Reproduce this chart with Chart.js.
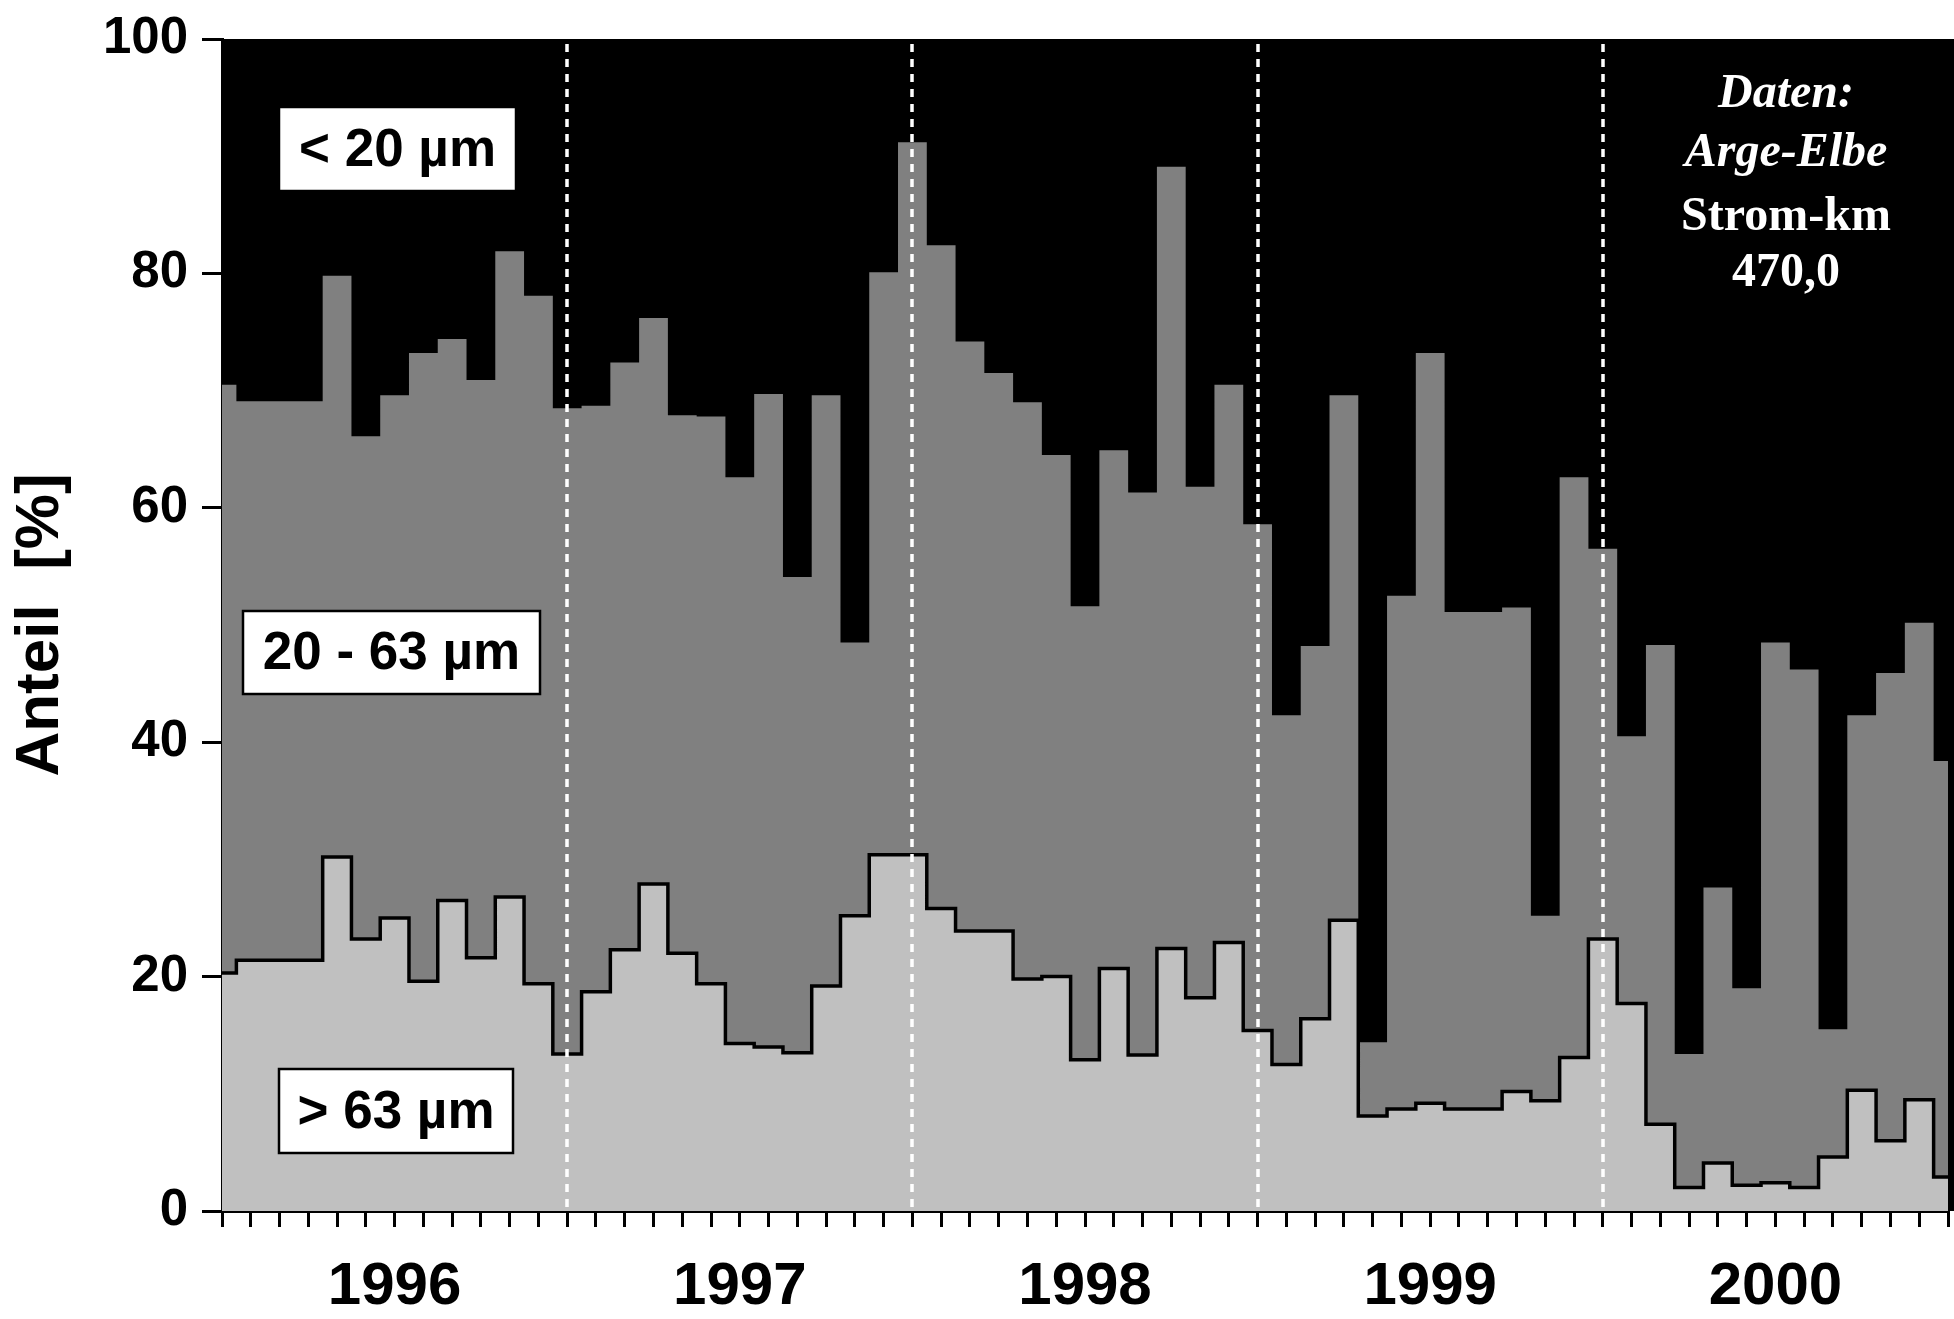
<!DOCTYPE html>
<html>
<head>
<meta charset="utf-8">
<script src="https://cdn.jsdelivr.net/npm/chart.js@4.4.1/dist/chart.umd.min.js"></script>
<style>
  html, body { margin: 0; padding: 0; background: #ffffff; }
  #wrap { width: 1954px; height: 1319px; }
</style>
</head>
<body>
<div id="wrap"><canvas id="c" width="1954" height="1319"></canvas></div>
<script>
// ---- data ----
const yearLabels = ['1996', '1997', '1998', '1999', '2000'];
const monthNames = ['Jan', 'Feb', 'Mär', 'Apr', 'Mai', 'Jun', 'Jul', 'Aug', 'Sep', 'Okt', 'Nov', 'Dez'];

// share of fraction > 63 µm [%], monthly (Jan 1996 ... Jan 2001)
const coarse = [
  20.3, 21.4, 21.4, 21.4, 30.2, 23.2, 25.0, 19.6, 26.5, 21.6, 26.8, 19.4,
  13.4, 18.7, 22.3, 27.9, 22.0, 19.4, 14.3, 14.0, 13.5, 19.2, 25.2, 30.4,
  30.4, 25.8, 23.9, 23.9, 19.8, 20.0, 12.9, 20.7, 13.3, 22.4, 18.2, 22.9,
  15.4, 12.5, 16.4, 24.8,  8.1,  8.7,  9.2,  8.7,  8.7, 10.2,  9.4, 13.1,
  23.2, 17.7,  7.4,  2.0,  4.1,  2.2,  2.4,  2.0,  4.6, 10.3,  6.0,  9.5,
   2.9
];

// cumulative share > 20 µm (20 - 63 µm plus > 63 µm) [%]
const coarsePlusMedium = [
  70.5, 69.1, 69.1, 69.1, 79.8, 66.1, 69.6, 73.2, 74.4, 70.9, 81.9, 78.1,
  68.5, 68.7, 72.4, 76.2, 67.9, 67.8, 62.6, 69.7, 54.1, 69.6, 48.5, 80.1,
  91.2, 82.4, 74.2, 71.5, 69.0, 64.5, 51.6, 64.9, 61.3, 89.1, 61.8, 70.5,
  58.6, 42.3, 48.2, 69.6, 14.4, 52.5, 73.2, 51.1, 51.1, 51.5, 25.2, 62.6,
  56.5, 40.5, 48.3, 13.4, 27.6, 19.0, 48.5, 46.2, 15.5, 42.3, 45.9, 50.2,
  38.4
];

const fractionLabels = ['< 20 µm', '20 - 63 µm', '> 63 µm'];
const noteLines = ['Daten:', 'Arge-Elbe', 'Strom-km', '470,0'];
const yAxisTitle = 'Anteil  [%]';

// categories built from the year / month names
const categories = [];
yearLabels.forEach(y => monthNames.forEach(m => categories.push(m + ' ' + y)));
categories.push('Jan 2001');

// ---- drawing helpers ----
const SANS = '"Liberation Sans", Arial, sans-serif';
const SERIF = '"Liberation Serif", "Times New Roman", serif';

const overlay = {
  id: 'overlay',
  beforeDatasetsDraw(chart) {
    const { ctx, chartArea: a } = chart;
    ctx.save();
    ctx.fillStyle = '#000000';
    ctx.fillRect(a.left, a.top, chart.width - a.left, a.bottom - a.top);
    ctx.restore();
  },
  afterDatasetsDraw(chart) {
    const { ctx, chartArea: a } = chart;
    const xs = chart.scales.x;
    ctx.save();
    // dashed year separators
    ctx.strokeStyle = '#ffffff';
    ctx.lineWidth = 3.5;
    ctx.setLineDash([8, 7]);
    for (let i = 1; i < yearLabels.length; i++) {
      const x = Math.round(xs.getPixelForValue(i * 12));
      ctx.beginPath();
      ctx.moveTo(x, a.top + 5);
      ctx.lineTo(x, a.bottom);
      ctx.stroke();
    }
    ctx.setLineDash([]);

    // labelled boxes
    const boxes = [
      { t: fractionLabels[0], x: a.left + 57, y: a.top + 68, w: 237, h: 84 },
      { t: fractionLabels[1], x: a.left + 21, y: a.top + 572, w: 297, h: 83 },
      { t: fractionLabels[2], x: a.left + 57, y: a.top + 1030, w: 234, h: 84 }
    ];
    ctx.font = 'bold 53px ' + SANS;
    ctx.textAlign = 'center';
    ctx.textBaseline = 'middle';
    boxes.forEach(b => {
      ctx.fillStyle = '#ffffff';
      ctx.fillRect(b.x, b.y, b.w, b.h);
      ctx.strokeStyle = '#000000';
      ctx.lineWidth = 2.5;
      ctx.strokeRect(b.x, b.y, b.w, b.h);
      ctx.fillStyle = '#000000';
      ctx.fillText(b.t, b.x + b.w / 2, b.y + b.h / 2 + 2);
    });

    // data note
    ctx.fillStyle = '#ffffff';
    const cx = 1786;
    const ys = [95, 154, 218, 274];
    noteLines.forEach((t, i) => {
      ctx.font = (i < 2 ? 'italic bold ' : 'bold ') + '48px ' + SERIF;
      ctx.fillText(t, cx, ys[i]);
    });
    ctx.restore();
  }
};

new Chart(document.getElementById('c').getContext('2d'), {
  type: 'line',
  data: {
    labels: categories,
    datasets: [
      {
        label: fractionLabels[2],
        data: coarse,
        stepped: 'middle',
        borderColor: '#000000',
        borderWidth: 3.5,
        backgroundColor: '#c0c0c0',
        fill: 'origin',
        pointRadius: 0,
        borderJoinStyle: 'miter'
      },
      {
        label: fractionLabels[1],
        data: coarsePlusMedium,
        stepped: 'middle',
        borderColor: '#808080',
        borderWidth: 0,
        backgroundColor: '#808080',
        fill: 'origin',
        pointRadius: 0
      }
    ]
  },
  options: {
    responsive: false,
    animation: false,
    layout: { padding: { top: 39, right: 6, left: 0, bottom: 0 } },
    plugins: {
      legend: { display: false },
      tooltip: { enabled: false }
    },
    scales: {
      x: {
        type: 'category',
        offset: false,
        z: 1,
        grid: {
          drawOnChartArea: false,
          drawTicks: true,
          tickLength: 16,
          color: '#000000',
          lineWidth: 3
        },
        border: { display: true, color: '#000000', width: 3 },
        ticks: {
          autoSkip: false,
          maxRotation: 0,
          minRotation: 0,
          padding: 24,
          color: '#000000',
          font: { family: SANS, size: 60, weight: 'bold' },
          callback: (v, i) => (i % 12 === 6 ? yearLabels[Math.floor(i / 12)] : '')
        },
        afterFit(s) { s.height = 108; s.paddingRight = 0; s.paddingLeft = 0; }
      },
      y: {
        min: 0,
        max: 100,
        z: 1,
        grid: {
          drawOnChartArea: false,
          drawTicks: true,
          tickLength: 20,
          color: '#000000',
          lineWidth: 3
        },
        border: { display: true, color: '#000000', width: 3 },
        ticks: {
          stepSize: 20,
          padding: 14,
          color: '#000000',
          font: { family: SANS, size: 51, weight: 'bold' }
        },
        title: {
          display: true,
          text: yAxisTitle,
          color: '#000000',
          font: { family: SANS, size: 62, weight: 'bold' },
          padding: { top: 4, bottom: 0 }
        },
        afterFit(s) { s.width = 222; s.paddingTop = 0; s.paddingBottom = 0; }
      }
    }
  },
  plugins: [overlay]
});
</script>
</body>
</html>
